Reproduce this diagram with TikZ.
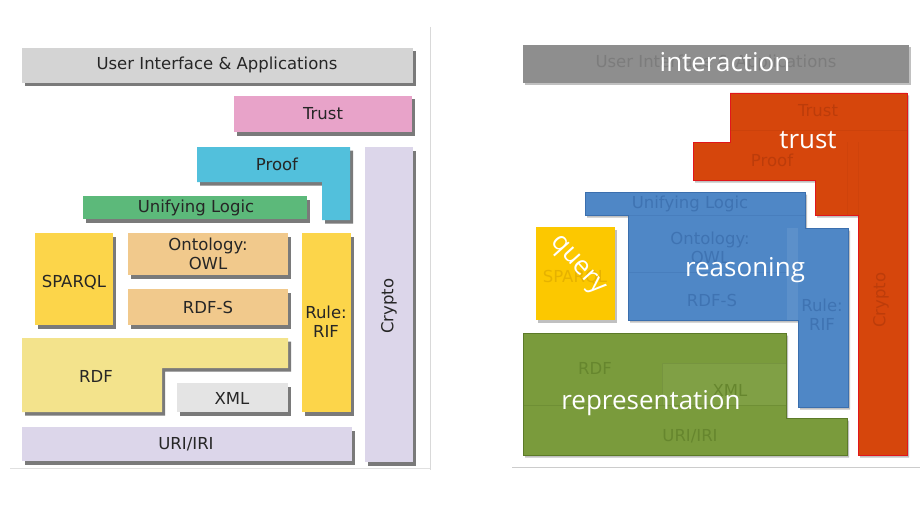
\documentclass[tikz,border=0pt]{standalone}
\usepackage{fontspec}
\setmainfont{DejaVu Sans}
\newfontfamily\bigfont{Open Sans}
\usetikzlibrary{shadows}
\definecolor{uigray}{HTML}{D4D4D4}
\definecolor{trustpink}{HTML}{E8A3C9}
\definecolor{proofcyan}{HTML}{52C0DC}
\definecolor{ulgreen}{HTML}{5CB97A}
\definecolor{sqyellow}{HTML}{FCD54A}
\definecolor{owltan}{HTML}{F1C98C}
\definecolor{rdfyellow}{HTML}{F3E38C}
\definecolor{xmlgray}{HTML}{E4E4E4}
\definecolor{lav}{HTML}{DCD6EA}
\definecolor{intgray}{HTML}{8E8E8E}
\definecolor{intfaint}{HTML}{7C7C7C}
\definecolor{redfill}{HTML}{D6460C}
\definecolor{redline}{HTML}{E2161B}
\definecolor{redfaint}{HTML}{BC3C0A}
\definecolor{bluefill}{HTML}{4F87C6}
\definecolor{blueline}{HTML}{3B6FAE}
\definecolor{bluefaint}{HTML}{3F73B2}
\definecolor{qyellow}{HTML}{FCC800}
\definecolor{qfaint}{HTML}{E6B200}
\definecolor{greenfill}{HTML}{7A9B3C}
\definecolor{greenline}{HTML}{5C7A28}
\definecolor{greenfaint}{HTML}{66862E}
\tikzset{
  blk/.style={drop shadow={shadow xshift=3pt,shadow yshift=-3.5pt,opacity=0.65,fill=black!80}},
  rblk/.style={drop shadow={shadow xshift=2pt,shadow yshift=-2.5pt,opacity=0.35,fill=black!70}},
  lbl/.style={font=\fontsize{16.5}{19}\selectfont, text=black!85, align=center, inner sep=0pt},
  big/.style={font=\bigfont\fontsize{26}{29}\selectfont, text=white, inner sep=0pt},
}
\begin{document}
\begin{tikzpicture}[x=1pt,y=-1pt]
\useasboundingbox (0,0) rectangle (920,532);
\fill[white] (0,0) rectangle (920,532);
% panel borders
\draw[black!15, line width=0.8pt] (430,27) -- (430,470);
\draw[black!12, line width=0.8pt] (10,468) -- (430,468);
\draw[black!20, line width=0.8pt] (512,467) -- (920,467);

% ===== Left panel =====
\fill[blk, fill=uigray] (22,48) rectangle (413,83);
\fill[blk, fill=trustpink] (234,96) rectangle (412,132);
\fill[blk, fill=lav] (365,147) rectangle (413,462);
\fill[blk, fill=proofcyan] (197,147) -- (350,147) -- (350,220) -- (322,220) -- (322,182) -- (197,182) -- cycle;
\fill[blk, fill=ulgreen] (83,196) rectangle (307,219);
\fill[blk, fill=sqyellow] (35,233) rectangle (113,325);
\fill[blk, fill=owltan] (128,233) rectangle (288,275);
\fill[blk, fill=owltan] (128,289) rectangle (288,325);
\fill[blk, fill=sqyellow] (302,233) rectangle (351,412);
\fill[blk, fill=rdfyellow] (22,338) -- (288,338) -- (288,368) -- (162,368) -- (162,412) -- (22,412) -- cycle;
\fill[blk, fill=xmlgray] (177,383) rectangle (288,412);
\fill[blk, fill=lav] (22,427) rectangle (352,461);

\node[lbl] (ui) at (217,65) {User Interface \& Applications};
\node[lbl] (trust) at (323,114) {Trust};
\node[lbl] (proof) at (277,164) {Proof};
\node[lbl] (ulogic) at (196,208) {Unifying Logic};
\node[lbl] (sparql) at (74,282) {SPARQL};
\node[lbl] (owl) at (208,254) {Ontology:\\OWL};
\node[lbl] (rdfs) at (208,307) {RDF-S};
\node[lbl] (rif) at (326,322) {Rule:\\RIF};
\node[lbl] (rdf) at (96,376) {RDF};
\node[lbl] (xml) at (232,398) {XML};
\node[lbl] (uri) at (186,444) {URI/IRI};
\node[lbl, rotate=90] (crypto) at (389,306) {Crypto};

% ===== Right panel =====
% interaction
\fill[rblk, fill=intgray] (523,45) rectangle (909,83);
\node[lbl, text=intfaint] (rui) at (716,63) {User Interface \& Applications};
% trust (red)
\fill[rblk, fill=redfill, draw=redline, line width=0.8pt]
  (730,93) -- (907,93) -- (907,455) -- (858,455) -- (858,215) -- (815,215)
  -- (815,180) -- (693,180) -- (693,142) -- (730,142) -- cycle;
\draw[redfaint, opacity=0.35, line width=0.6pt] (730,130) -- (907,130);
\draw[redfaint, opacity=0.25, line width=0.6pt] (847,142) -- (847,215) (858,142) -- (858,215);
\node[lbl, text=redfaint] (rtrust) at (818,111) {Trust};
\node[lbl, text=redfaint] (rproof) at (772,160) {Proof};
\node[lbl, text=redfaint, rotate=90] (rcrypto) at (881,300) {Crypto};
% reasoning (blue)
\fill[rblk, fill=bluefill, draw=blueline, line width=0.8pt]
  (585,192) -- (805,192) -- (805,228) -- (848,228) -- (848,407) -- (798,407)
  -- (798,320) -- (628,320) -- (628,215) -- (585,215) -- cycle;
\fill[white, opacity=0.08] (787,228) rectangle (798,320);
\draw[blueline, opacity=0.35, line width=0.6pt] (628,272) -- (787,272) (628,215) -- (805,215);
\node[lbl, text=bluefaint] (rul) at (690,204) {Unifying Logic};
\node[lbl, text=bluefaint] (rowl) at (710,248) {Ontology:\\OWL};
\node[lbl, text=bluefaint] (rrdfs) at (712,300) {RDF-S};
\node[lbl, text=bluefaint] (rrif) at (822,315) {Rule:\\RIF};
% query (yellow)
\fill[rblk, fill=qyellow] (536,227) rectangle (615,320);
\node[lbl, text=qfaint] (rsparql) at (575,277) {SPARQL};
% representation (green)
\fill[rblk, fill=greenfill, draw=greenline, line width=0.8pt]
  (523,333) -- (786,333) -- (786,418) -- (847,418) -- (847,455) -- (523,455) -- cycle;
\draw[greenline, opacity=0.35, line width=0.6pt] (662,405) -- (662,363) -- (786,363) (523,405) -- (786,405);
\fill[white, opacity=0.05] (662,363) rectangle (786,405);
\node[lbl, text=greenfaint] (rrdf) at (595,368) {RDF};
\node[lbl, text=greenfaint] (rxml) at (730,390) {XML};
\node[lbl, text=greenfaint] (ruri) at (690,436) {URI/IRI};

% big white labels
\node[big] (interaction) at (725,62) {interaction};
\node[big] (btrust) at (808,140) {trust};
\node[big] (reasoning) at (745,270) {reasoning};
\node[big] (representation) at (651,403) {representation};
\node[big, rotate=-48] (query) at (577,266) {query};
\end{tikzpicture}
\end{document}
